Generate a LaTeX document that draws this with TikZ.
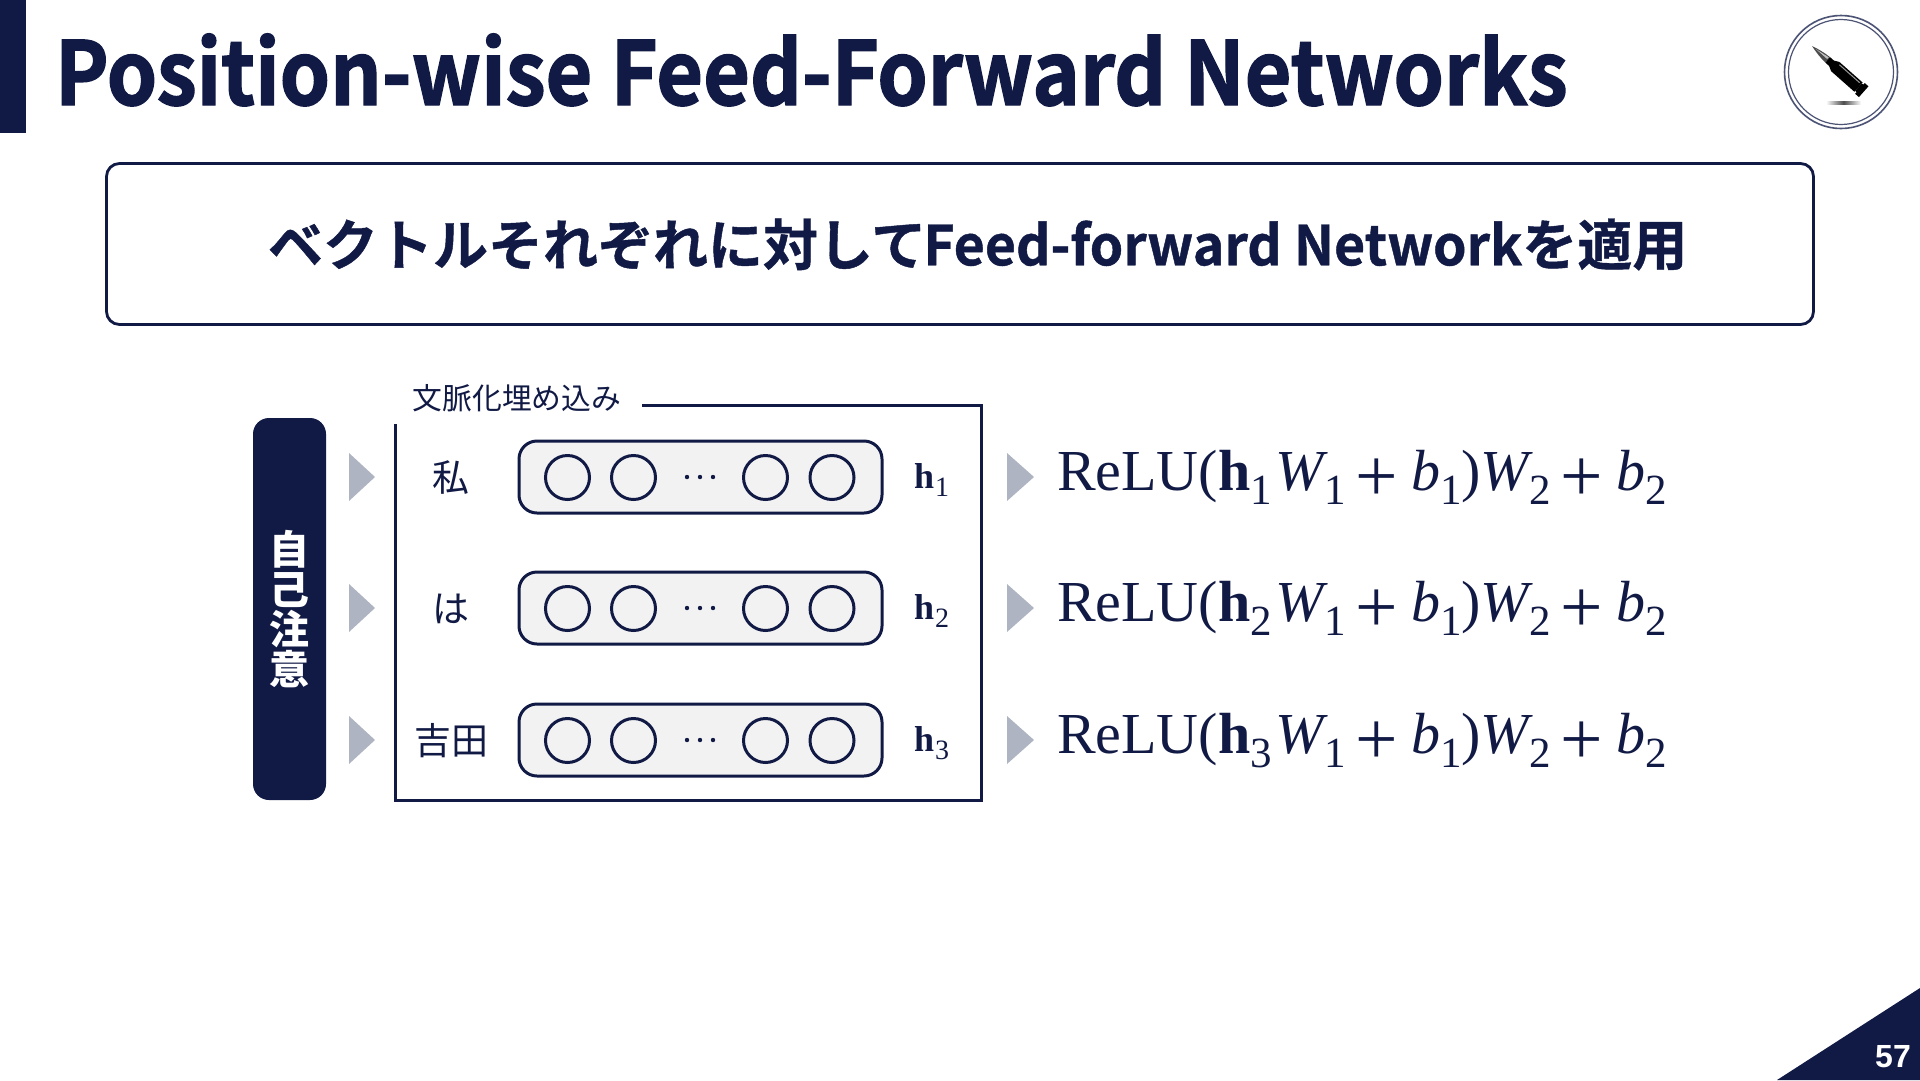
\documentclass[tikz,border=0pt]{standalone}
\usepackage{fontspec}
\setmainfont{Noto Sans CJK JP}
\newfontfamily\titlef[BoldFont={Noto Sans CJK JP Bold},BoldFeatures={FakeBold=1.6},FakeStretch=0.916]{Noto Sans CJK JP}
\newfontfamily\bannerf[BoldFont={Noto Sans CJK JP Bold},BoldFeatures={FakeBold=0.8}]{Noto Sans CJK JP}
\newfontfamily\serf{Liberation Serif}
\newfontfamily\numf{Liberation Sans}
\definecolor{navy}{HTML}{111A45}
\definecolor{arrowgrey}{HTML}{AEB4C2}
\definecolor{boxgrey}{HTML}{F2F2F2}
\newcommand{\fsz}[1]{\fontsize{#1}{#1}\selectfont}
\newcommand{\bigsub}[1]{\raisebox{-14pt}{\fsz{43}#1}}
\newcommand{\smallsub}[1]{\kern1pt\raisebox{-8pt}{\fsz{28}#1}}
\newcommand{\plusop}{\kern10pt\raisebox{-11pt}{\scalebox{1.3}{+}}\kern13pt}
\newcommand{\formula}[1]{{\serf\fsz{58}ReLU({\bfseries h}\bigsub{#1}\kern4pt{\itshape W}\bigsub{1}\plusop{\itshape b}\bigsub{1})\kern0pt{\itshape W}\bigsub{2}\plusop{\itshape b}\bigsub{2}}}
\tikzset{
  every node/.style={text=navy,inner sep=0pt,outer sep=0pt},
  vecbox/.style={draw=navy,line width=3pt,fill=boxgrey,rounded corners=18pt,minimum width=363pt,minimum height=72pt},
  unit/.style={circle,draw=navy,line width=3pt,minimum size=44pt},
  dotm/.style={circle,fill=navy,minimum size=4.4pt},
  wordlabel/.style={font=\fsz{37}},
  hlabel/.style={anchor=base west,font=\serf\fsz{36}},
  formulalabel/.style={anchor=base west},
  pointer/.style={fill=arrowgrey,draw=none},
}
\begin{document}
\begin{tikzpicture}[x=1pt,y=-1pt]
\useasboundingbox (0,0) rectangle (1920,1080);
\fill[white] (0,0) rectangle (1920,1080);
% header
\fill[navy] (0,0) rectangle (26,133);
\node[anchor=base west,font=\titlef\bfseries\fsz{88}] (title) at (55,105) {Position-wise Feed-Forward Networks};
% logo
\node[circle,draw=navy!75,line width=1.6pt,minimum size=113pt] (logoOuter) at (1841,72) {};
\node[circle,draw=navy!75,line width=1.2pt,minimum size=105pt] (logoInner) at (1841,72) {};
\begin{scope}[shift={(1812,46)},rotate=-41.5]
  \fill[black!70] (0,0) .. controls (7,-2) and (14,-3.2) .. (21,-3.6) -- (21,3.6) .. controls (14,3.2) and (7,2) .. (0,0) -- cycle;
  \fill[white!75!black] (5,-0.3) -- (20,-2.6) -- (20,-0.3) -- cycle;
  \fill[black] (21,-3.6) -- (26,-3.6) -- (31,-6.2) -- (62,-6.2) -- (62,6.2) -- (31,6.2) -- (26,3.6) -- (21,3.6) -- cycle;
  \fill[white!60!black] (33,-4.6) -- (60,-4.6) -- (60,-3.6) -- (33,-3.6) -- cycle;
  \fill[black] (62,-5) -- (64,-5) -- (64,-7.2) -- (69,-7.2) -- (69,7.2) -- (64,7.2) -- (64,5) -- (62,5) -- cycle;
\end{scope}
\shade[left color=white,right color=white,middle color=black!70] (1826,101.5) rectangle (1861,104);
% banner
\node[draw=navy,line width=2.8pt,rounded corners=13pt,minimum width=1707pt,minimum height=161pt] (banner) at (960,244) {};
\node[anchor=west,font=\bannerf\bfseries\fsz{55}] (bannerText) at (268,244.5) {ベクトルそれぞれに対して\kern-3pt\scalebox{0.975}[1]{Feed-forward Network}を適用};
% left pill
\node[fill=navy,rounded corners=16pt,minimum width=73pt,minimum height=382pt] (attn) at (289.5,609) {};
\node[align=center,text=white,font=\bfseries\fsz{40},text width=44pt] (attnText) at (289.5,609) {\baselineskip=40pt 自\\己\\注\\意};
% pointers
\foreach \n/\y in {a/477,b/608,c/740}{
  \fill[pointer] (349,\y-24) -- (375,\y) -- (349,\y+24) -- cycle;
  \fill[pointer] (1007,\y-24) -- (1034,\y) -- (1007,\y+24) -- cycle;
}
% container
\coordinate (frameStart) at (642,405.5);
\coordinate (frameNE) at (981.5,405.5);
\coordinate (frameSE) at (981.5,800.5);
\coordinate (frameSW) at (395,800.5);
\coordinate (frameEnd) at (395,424);
\draw[navy,line width=3pt] (frameStart) -- (frameNE) -- (frameSE) -- (frameSW) -- (frameEnd);
\node[font=\fsz{29.8}] (frameLabel) at (517,398) {文脈化埋め込み};
% rows
\foreach \n/\y/\w/\i in {a/477/私/1,b/608/は/2,c/740/吉田/3}{
  \node[wordlabel] (word\n) at (451,\y+1) {\w};
  \node[vecbox] (box\n) at (700.5,\y) {};
  \node[unit] (u1\n) at (567.5,\y+0.5) {};
  \node[unit] (u2\n) at (633.5,\y+0.5) {};
  \node[unit] (u3\n) at (765.5,\y+0.5) {};
  \node[unit] (u4\n) at (832,\y+0.5) {};
  \node[dotm] (d1\n) at (687,\y) {};
  \node[dotm] (d2\n) at (700,\y) {};
  \node[dotm] (d3\n) at (713,\y) {};
  \node[hlabel] (h\n) at (914,\y+11) {{\bfseries h}\smallsub{\i}};
  \node[formulalabel] (f\n) at (1057,\y+13) {\formula{\i}};
}
% corner
\fill[navy] (1777,1080) -- (1920,988) -- (1920,1080) -- cycle;
\node[text=white,font=\numf\bfseries\fsz{32}] (pageNum) at (1893,1057) {57};
\end{tikzpicture}
\end{document}
